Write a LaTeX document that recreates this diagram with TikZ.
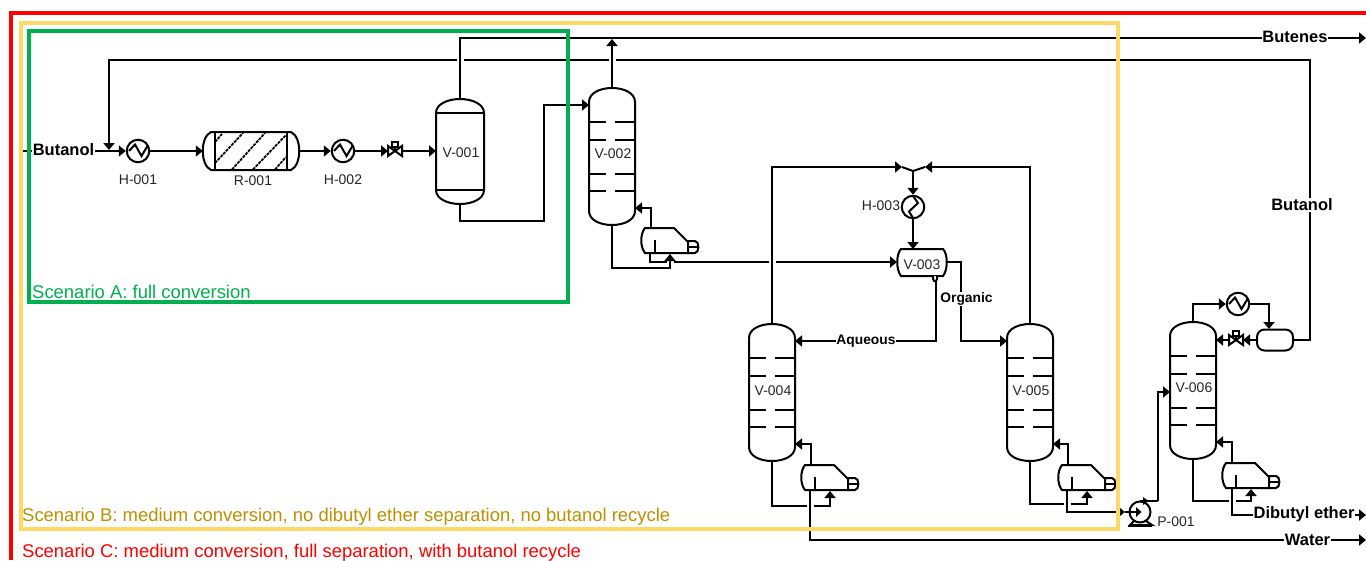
\documentclass[tikz,border=0pt]{standalone}
\usepackage{fontspec}
\setmainfont{Liberation Sans}
\usetikzlibrary{arrows.meta}
\pgfdeclarelayer{pipes}
\pgfdeclarelayer{frames}
\pgfsetlayers{pipes,main,frames}
\definecolor{frR}{HTML}{FF0000}
\definecolor{frY}{HTML}{FFD966}
\definecolor{frG}{HTML}{00B050}
\definecolor{txY}{HTML}{BF9000}
\tikzset{
  pipe/.style={line width=2pt},
  conn/.style={line width=2pt,-{Triangle[length=7pt,width=11pt]}},
  casing/.style={preaction={draw=white,line width=7pt,-}},
  equip/.style={line width=2pt,fill=white},
  tag/.style={font=\fontsize{14}{15}\selectfont,text=black!85,inner sep=0pt},
  stream/.style={font=\fontsize{16.5}{18}\selectfont\bfseries,fill=white,inner sep=0.5pt},
  streamsm/.style={font=\fontsize{13.8}{16}\selectfont\bfseries,fill=white,inner sep=0.5pt},
  scen/.style={font=\fontsize{18.45}{20}\selectfont,anchor=west,inner sep=0pt},
  hxnode/.style={circle,draw,line width=2pt,fill=white,minimum size=22.5pt,inner sep=0pt},
  frame/.style={line width=3.2pt},
  colshape/.pic={
    \draw[equip] (-23,14) .. controls (-23,5) and (-12,0) .. (0,0) .. controls (12,0) and (23,5) .. (23,14)
      -- (23,123) .. controls (23,132) and (12,137) .. (0,137) .. controls (-12,137) and (-23,132) .. (-23,123) -- cycle;
    \foreach \ty in {34,52,86,103} {
      \draw[pipe] (-22,\ty) -- (-6,\ty);
      \draw[pipe] (3,\ty) -- (22,\ty);
    }
    \coordinate (-t) at (0,0);
    \coordinate (-b) at (0,137);
  },
  vesselshape/.pic={
    \draw[equip] (-24,14) .. controls (-24,5) and (-12,0) .. (0,0) .. controls (12,0) and (24,5) .. (24,14)
      -- (24,91) .. controls (24,100) and (12,105) .. (0,105) .. controls (-12,105) and (-24,100) .. (-24,91) -- cycle;
    \draw[pipe] (-24,14) -- (24,14);
    \draw[pipe] (-24,91) -- (24,91);
    \coordinate (-t) at (0,0);
    \coordinate (-b) at (0,105);
    \coordinate (-w) at (-24,52);
  },
  reboilshape/.pic={
    \draw[equip] (4,0) -- (33,0) -- (47,14) -- (47,25) -- (4,25) .. controls (-1,19) and (-1,6) .. (4,0) -- cycle;
    \draw[equip] (47,13) -- (54,13) .. controls (58.5,13) and (58.5,25) .. (54,25) -- (47,25) -- cycle;
    \draw[pipe] (47,19) -- (56.5,19);
    \draw[pipe] (14,12) -- (14,25);
    \coordinate (-out) at (10,0);
    \coordinate (-bot) at (9,25);
    \coordinate (-in) at (29,26);
  },
  valveshape/.pic={
    \draw[equip] (-7,-5) -- (7,5) -- (7,-5) -- (-7,5) -- cycle;
    \draw[pipe] (0,0) -- (0,-5);
    \draw[equip] (-3,-9) rectangle (3,-4);
    \coordinate (-w) at (-7,0);
    \coordinate (-e) at (7,0);
  },
  sepshape/.pic={
    \draw[equip] (-21,-13) -- (21,-13) .. controls (26,-8) and (26,8) .. (21,14) -- (-21,14) .. controls (-26,8) and (-26,-8) .. (-21,-13) -- cycle;
    \draw[equip] (11,14) -- (11,17) -- (12,19) -- (14,19) -- (15,17) -- (15,14);
    \coordinate (-w) at (-25,0);
    \coordinate (-e) at (25,0);
    \coordinate (-n) at (-9,-13);
    \coordinate (-noz) at (14,19);
  },
  pumpshape/.pic={
    \draw[pipe] (-6,9) -- (-10,13) -- (12,13) -- (6,9);
    \draw[line width=2pt] (-12,14) -- (12,14);
    \draw[equip] (0,0) circle[radius=10.5];
    \draw[pipe] (-10,0) -- (-3,0);
    \fill (-4,-5) -- (1.5,0) -- (-4,5) -- cycle;
    \fill (3,-15) -- (8.5,-11) -- (3,-7) -- cycle;
    \coordinate (-w) at (-10,0);
    \coordinate (-top) at (0,-11);
  }
}
\newcommand{\zigh}[1]{\draw[pipe] ([xshift=-9pt]#1.center) -- ++(6,-6.5) -- ++(6.5,11.5) -- ++(6,-10);}
\newcommand{\zigv}[1]{\draw[pipe] ([yshift=11pt]#1.center) -- ++(5,7) -- ++(-9,8.5) -- ++(4,6.5);}
\begin{document}
\begin{tikzpicture}[x=1pt,y=-1pt]
\useasboundingbox (0,0) rectangle (1366,560);
\begin{pgfonlayer}{pipes}
\fill[white] (0,0) rectangle (1366,560);
\end{pgfonlayer}

% free ends and bend points
\coordinate (feedin) at (22,151);
\coordinate (rcA) at (1310,60);
\coordinate (rcB) at (109,60);
\coordinate (rcC) at (109,150);
\coordinate (butEnd) at (1366,38);
\coordinate (butMid) at (460,38);
\coordinate (V2overhead) at (612,39);
\coordinate (c1) at (544,221);
\coordinate (c2) at (544,105);
\coordinate (V2feed) at (589,105);
\coordinate (V2ret) at (635,208);
\coordinate (V4ret) at (795,444);
\coordinate (V5ret) at (1053,444);
\coordinate (V6ret) at (1216,442);
\coordinate (V4feed) at (795,341);
\coordinate (V5feed) at (1007,341);
\coordinate (V6feed) at (1170,392);
\coordinate (drumIn) at (1269,329);
\coordinate (org) at (961,262);
\coordinate (mixW) at (902,167);
\coordinate (mixE) at (925,167);
\coordinate (mixS) at (913,171);
\coordinate (pumpIn) at (1125,512);
\coordinate (pOut) at (1158,501);
\coordinate (waterEnd) at (1366,540);
\coordinate (etherEnd) at (1366,515);

% equipment
\pic (V001) at (460,99) {vesselshape};
\pic (V002) at (612,88) {colshape};
\pic (V004) at (772,324) {colshape};
\pic (V005) at (1030,324) {colshape};
\pic (V006) at (1193,322) {colshape};
\pic (RB2) at (641,228) {reboilshape};
\pic (RB4) at (801,465) {reboilshape};
\pic (RB5) at (1058,465) {reboilshape};
\pic (RB6) at (1222,463) {reboilshape};
\pic (V003) at (922,262) {sepshape};
\pic (VLV1) at (395,151) {valveshape};
\pic (VLV2) at (1236,340) {valveshape};
\pic (P001) at (1140,512) {pumpshape};
\node[hxnode] (H001) at (138,151) {}; \zigh{H001}
\node[hxnode] (H002) at (343,151) {}; \zigh{H002}
\node[hxnode] (H003) at (913,207) {}; \zigv{H003}
\node[hxnode] (H004) at (1238,304) {}; \zigh{H004}
\node[draw,line width=2pt,rounded corners=7.5pt,fill=white,minimum width=36pt,minimum height=21pt,inner sep=0pt] (D006) at (1275,340) {};
\node[inner sep=0,minimum width=96pt,minimum height=38pt] (R001) at (251,151) {};

% reactor R-001
\draw[equip] (211,132) -- (291,132) .. controls (302,137) and (302,165) .. (291,170) -- (211,170) .. controls (200,165) and (200,137) .. (211,132) -- cycle;
\draw[pipe] (215,132) -- (215,170);
\draw[pipe] (287,132) -- (287,170);
\draw[line width=1.8pt,dash pattern=on 3pt off 1pt]
  (215,163) -- (243,133)  (232,169.5) -- (265,133)  (253,169.5) -- (286,135)  (275,169.5) -- (286,157)  (215,142) -- (222,134);

% connectors (white casing on lines that jump over others)
\begin{pgfonlayer}{pipes}
\draw[conn] (D006.east) -| (rcA) -- (rcB) -- (rcC);
\draw[conn] (feedin) -- (H001.west);
\draw[conn] (H001.east) -- (R001.west);
\draw[conn] (R001.east) -- (H002.west);
\draw[conn] (H002.east) -- (VLV1-w);
\draw[conn] (VLV1-e) -- (V001-w |- VLV1-e);
\draw[conn,casing] (V001-t) -- (butMid) -- (butEnd);
\draw[conn] (V001-b) |- (c1) -- (c2) -- (V2feed);
\draw[conn,casing] (V002-t) -- (V2overhead);
\draw[conn] (RB2-out) |- (V2ret);
\draw[conn] (RB2-bot) |- (V003-w);
\draw[conn,casing] (V002-b) |- ([yshift=-14pt]RB2-in) -- (RB2-in);
\draw[conn,casing] (V004-t) |- (mixW);
\draw[conn] (V005-t) |- (mixE);
\draw[pipe] (mixW) -- (mixS) -- (mixE);
\draw[conn] (mixS) -- (H003.north);
\draw[conn] (H003.south) -- (V003-n);
\draw[conn] (V003-noz) |- (V4feed);
\draw[conn] (V003-e) -| (org) |- (V5feed);
\draw[conn] (RB4-out) |- (V4ret);
\draw[conn] (RB5-out) |- (V5ret);
\draw[conn] (RB6-out) |- (V6ret);
\draw[conn] (V004-b) |- ([yshift=-15pt]RB4-in) -- (RB4-in);
\draw[conn] (V005-b) |- ([yshift=-13pt]RB5-in) -- (RB5-in);
\draw[conn] (V006-b) |- ([yshift=-12pt]RB6-in) -- (RB6-in);
\draw[conn,casing] (RB4-bot) |- (waterEnd);
\draw[conn,casing] (RB5-bot) |- (pumpIn);
\draw[pipe] (pumpIn) -- (P001-w);
\draw[conn,casing] (RB6-out |- RB6-bot) |- (etherEnd);
\draw[pipe] (P001-top) -- (P001-top |- pOut) -- (pOut);
\draw[conn] (pOut) |- (V6feed);
\draw[conn] (V006-t) |- (H004.west);
\draw[conn] (H004.east) -| (drumIn);
\draw[conn] (D006.west) -- (VLV2-e);
\draw[conn] (VLV2-w) -- (V6ret |- VLV2-w);
\end{pgfonlayer}

% texts
\node[tag] (lH001) at (138,180) {H-001};
\node[tag] (lR001) at (253,181) {R-001};
\node[tag] (lH002) at (343,180) {H-002};
\node[tag] (lH003) at (881,206) {H-003};
\node[tag] (lV001) at (461,153) {V-001};
\node[tag] (lV002) at (613,154) {V-002};
\node[tag] (lV003) at (922,265) {V-003};
\node[tag] (lV004) at (773,391) {V-004};
\node[tag] (lV005) at (1031,391) {V-005};
\node[tag] (lV006) at (1194,388) {V-006};
\node[tag] (lP001) at (1176,522) {P-001};
\node[stream] (sBut1) at (63.5,150) {Butanol};
\node[stream] (sBut2) at (1302,205) {Butanol};
\node[stream] (sButen) at (1295,37) {Butenes};
\node[stream] (sEther) at (1304,514) {Dibutyl ether};
\node[stream] (sWater) at (1307.5,540) {Water};
\node[streamsm] (sAq) at (866,341) {Aqueous};
\node[streamsm] (sOrg) at (966.5,299) {Organic};

% scenario frames
\begin{pgfonlayer}{frames}
\draw[frame,frR] (1366,13) -- (11,13) -- (11,560);
\draw[frame,frY] (21,23) rectangle (1118,529);
\draw[frame,frG] (29,31) rectangle (568,302);
\node[scen,text=frG] (sA) at (32,291.5) {Scenario A: full conversion};
\node[scen,text=txY] (sB) at (22,517) {Scenario B: medium conversion, no dibutyl ether separation, no butanol recycle};
\node[scen,text=frR] (sC) at (22,553) {Scenario C: medium conversion, full separation, with butanol recycle};
\end{pgfonlayer}
\end{tikzpicture}
\end{document}
